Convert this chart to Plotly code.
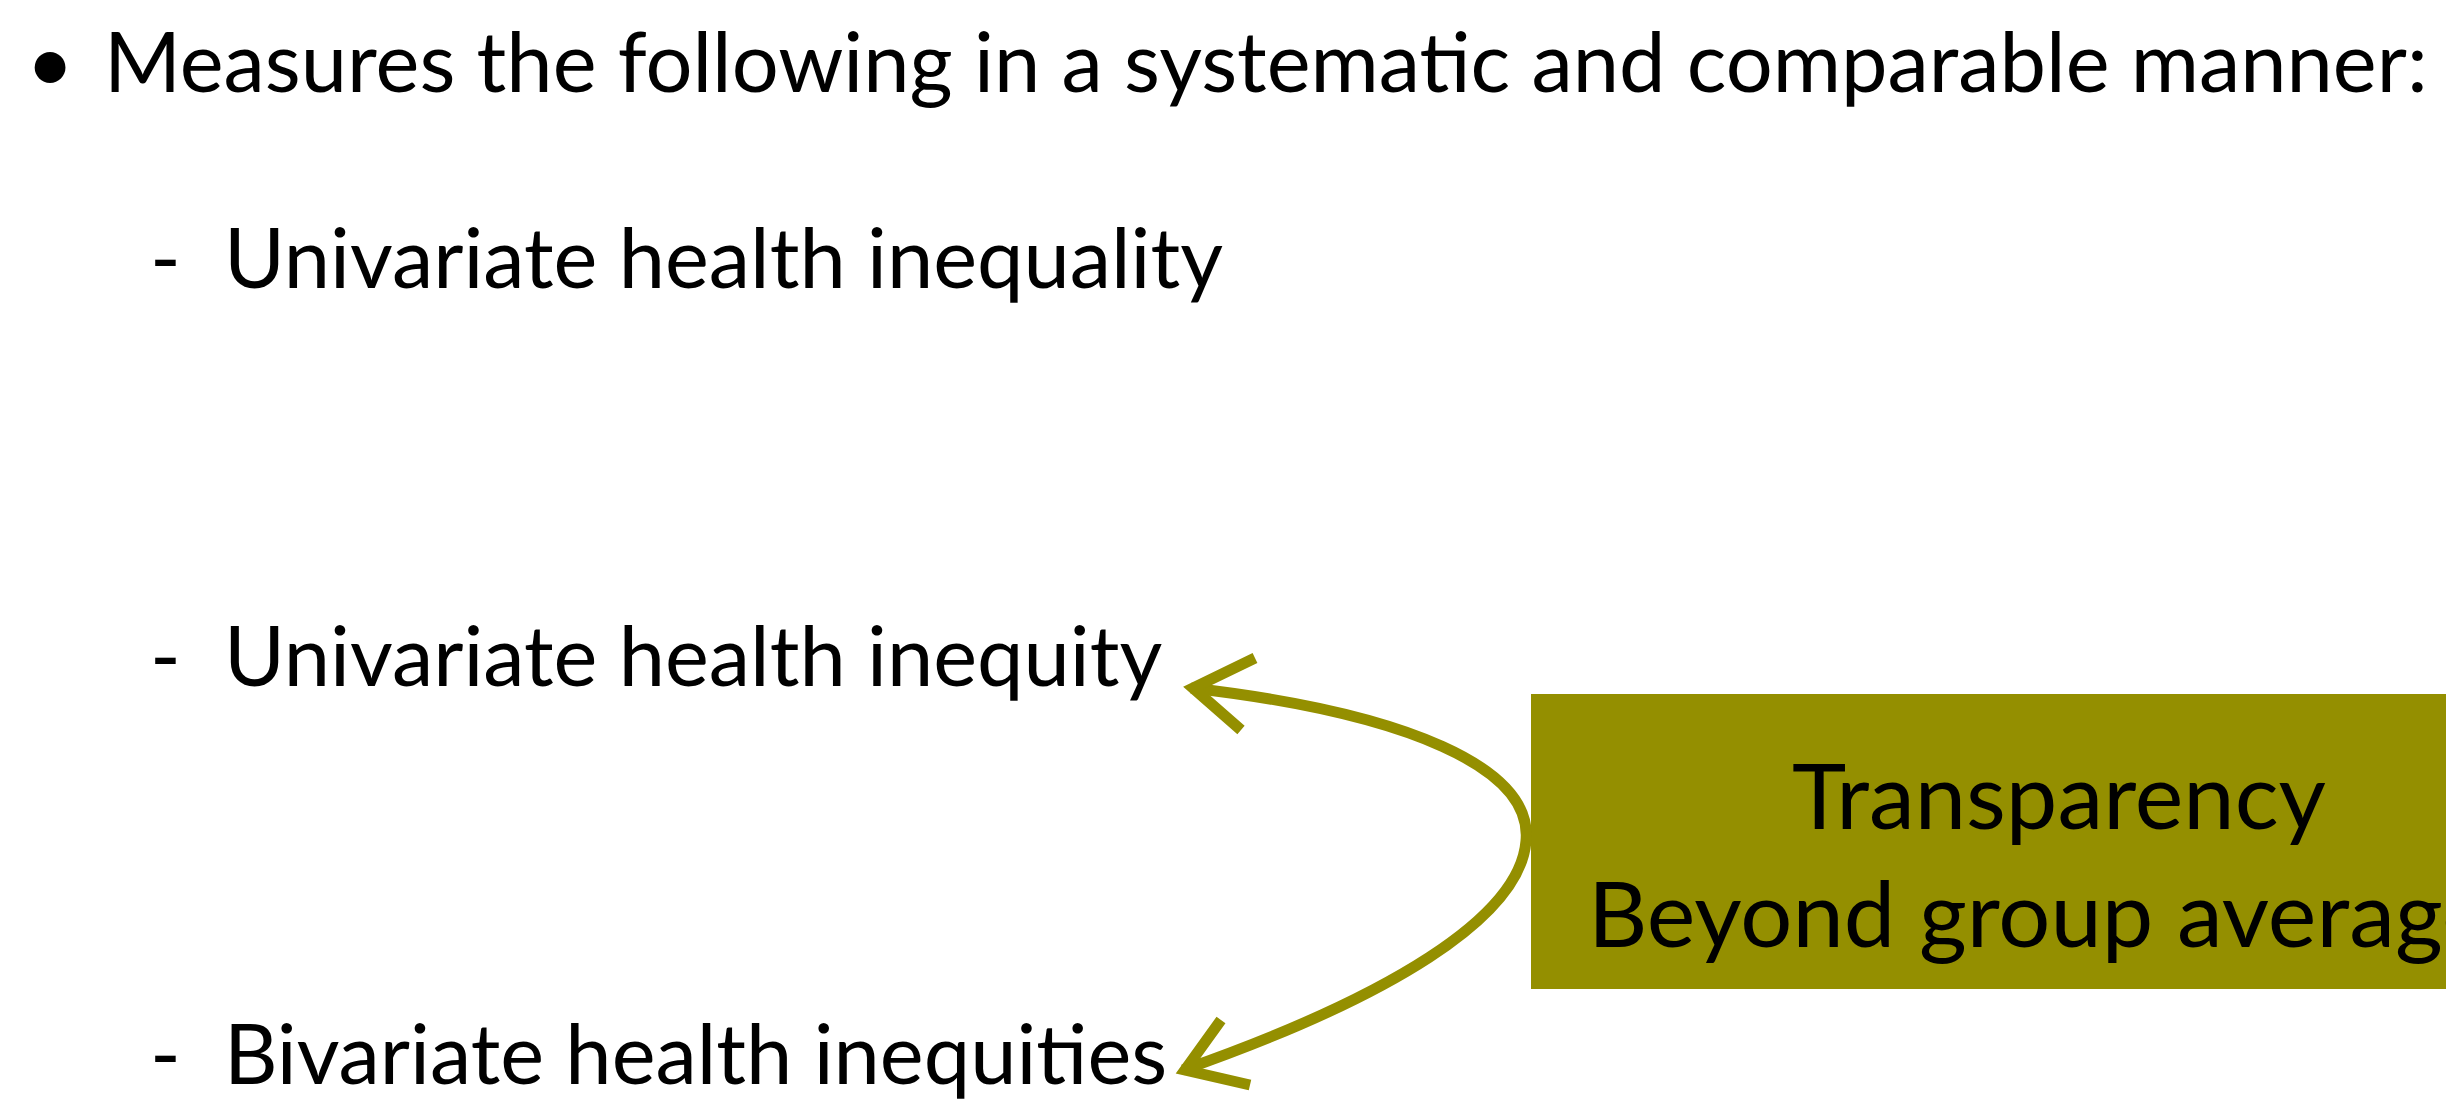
import plotly.graph_objects as go

# ---- content (text of the slide) ----
bullet_text = ["Measures the following in a systematic and comparable manner:"]
sub_items = ["Univariate health inequality", "Univariate health inequity", "Bivariate health inequities"]
box_lines = ["Transparency", "Beyond group averages"]

W, H = 2454, 1100
OLIVE = "#948F00"
FONT = "Lato"
MAIN_SIZE = 83

fig = go.Figure()
fig.update_layout(
    width=W, height=H, margin=dict(l=0, r=0, t=0, b=0),
    paper_bgcolor="white", plot_bgcolor="white", showlegend=False,
    xaxis=dict(range=[0, W], visible=False, fixedrange=True),
    yaxis=dict(range=[H, 0], visible=False, fixedrange=True),
)

ann = []
# bullet
ann.append(dict(x=42, y=0, text="•", showarrow=False, xanchor="center", yanchor="top",
                font=dict(family=FONT, size=MAIN_SIZE, color="black")))
ann.append(dict(x=94, y=0, text=bullet_text[0], showarrow=False, xanchor="left", yanchor="top",
                font=dict(family=FONT, size=MAIN_SIZE, color="black")))
sub_y = [248, 646, 1044]
for txt, yy in zip(sub_items, sub_y):
    ann.append(dict(x=140, y=yy, text="-", showarrow=False, xanchor="left", yanchor="middle",
                    font=dict(family=FONT, size=MAIN_SIZE, color="black")))
    ann.append(dict(x=214, y=yy, text=txt, showarrow=False, xanchor="left", yanchor="middle",
                    font=dict(family=FONT, size=MAIN_SIZE, color="black")))

# box
fig.add_shape(type="rect", x0=1524, y0=687, x1=2480, y1=980, fillcolor=OLIVE,
              line=dict(color=OLIVE, width=2), layer="below")
box_y = [785, 903]
for txt, yy in zip(box_lines, box_y):
    ann.append(dict(x=2051, y=yy, text=txt, showarrow=False, xanchor="center", yanchor="middle",
                    font=dict(family=FONT, size=92, color="black")))

# curved double-headed arrow
fig.add_shape(type="path",
              path="M 1183,680 C 1400,705 1525,760 1518,833 C 1512,910 1380,990 1175,1062",
              line=dict(color=OLIVE, width=11))
fig.add_shape(type="path", path="M 1247,650 L 1185,680 L 1233,722",
              line=dict(color=OLIVE, width=11))
fig.add_shape(type="path", path="M 1213,1012 L 1177,1062 L 1242,1077",
              line=dict(color=OLIVE, width=11))

fig.update_layout(annotations=ann)
fig.write_html("out.html")
